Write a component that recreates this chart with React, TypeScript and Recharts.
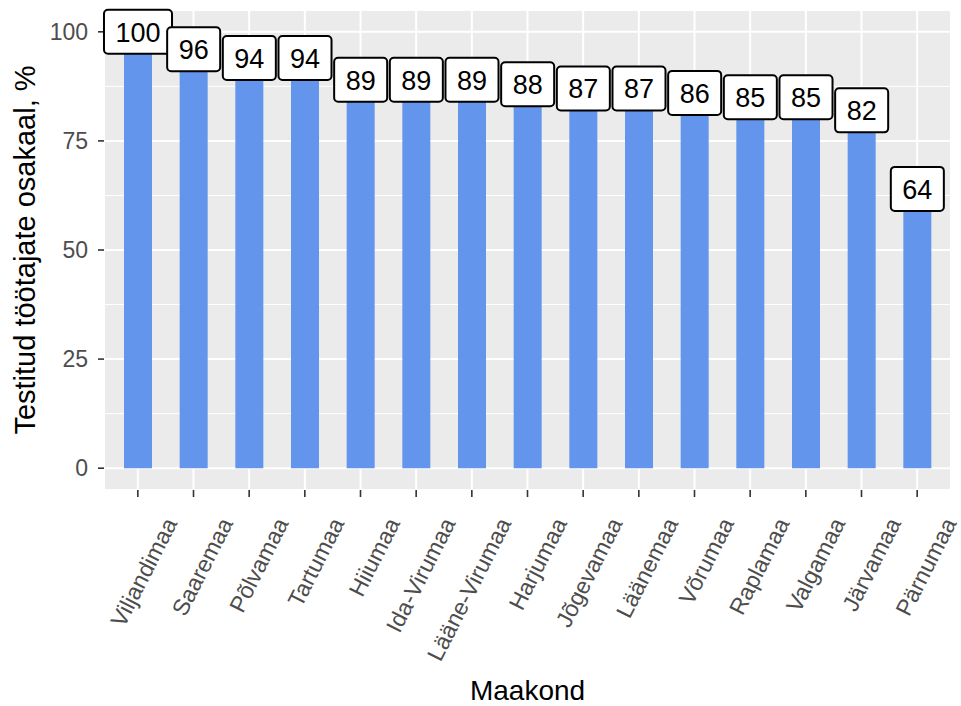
import React from 'react'
import { BarChart, Bar, XAxis, YAxis, CartesianGrid, LabelList, Label } from 'recharts'

const counties = [
  'Viljandimaa',
  'Saaremaa',
  'Põlvamaa',
  'Tartumaa',
  'Hiiumaa',
  'Ida-Virumaa',
  'Lääne-Virumaa',
  'Harjumaa',
  'Jõgevamaa',
  'Läänemaa',
  'Võrumaa',
  'Raplamaa',
  'Valgamaa',
  'Järvamaa',
  'Pärnumaa',
]
const shares = [100, 96, 94, 94, 89, 89, 89, 88, 87, 87, 86, 85, 85, 82, 64]
const yTicks = [0, 25, 50, 75, 100]
const yMinorTicks = [12.5, 37.5, 62.5, 87.5]

const data = counties.map((name, i) => ({ name, share: shares[i] }))

const FONT = '"Liberation Sans", Arial, sans-serif'

// rotated county names under the panel
const CountyTick = (props: any) => {
  const { x, y, payload } = props
  const ax = x + 40
  const ay = y + 24
  return (
    <text
      x={ax}
      y={ay}
      transform={`rotate(-63, ${ax}, ${ay})`}
      textAnchor="end"
      fontSize={23}
      fill="#4D4D4D"
      fontFamily={FONT}
    >
      {payload.value}
    </text>
  )
}

// ggplot-like geom_label box on top of each bar
const ValueLabel = (props: any) => {
  const { x, y, width, value } = props
  const text = String(value)
  const fs = 27
  const w = text.length * 0.556 * fs + 23
  const h = 44
  const cx = x + width / 2
  return (
    <g>
      <rect
        x={cx - w / 2}
        y={y - h / 2}
        width={w}
        height={h}
        rx={4}
        ry={4}
        fill="#ffffff"
        stroke="#000000"
        strokeWidth={2}
      />
      <text
        x={cx}
        y={y + fs * 0.36}
        textAnchor="middle"
        fontSize={fs}
        fill="#000000"
        fontFamily={FONT}
      >
        {text}
      </text>
    </g>
  )
}

export default function App() {
  return (
    <div
      style={{
        position: 'absolute',
        left: 0,
        top: 0,
        width: 961,
        height: 706,
        background: '#ffffff',
      }}
    >
      <BarChart
        width={961}
        height={706}
        data={data}
        margin={{ top: 10, right: 10, bottom: 0, left: 0 }}
      >
        {/* panel background + minor grid */}
        <CartesianGrid
          fill="#EBEBEB"
          stroke="#ffffff"
          strokeWidth={1}
          vertical={false}
          horizontalValues={yMinorTicks}
        />
        {/* major grid */}
        <CartesianGrid stroke="#ffffff" strokeWidth={2} />
        <XAxis
          dataKey="name"
          interval={0}
          height={216}
          padding={{ left: 6, right: 6 }}
          axisLine={false}
          tickSize={7}
          tickMargin={2}
          tickLine={{ stroke: '#333333', strokeWidth: 1.6 }}
          tick={<CountyTick />}
        >
          <Label
            content={(p: any) => {
              const vb = p.viewBox
              return (
                <text
                  x={vb.x + vb.width / 2}
                  y={vb.y + 210}
                  textAnchor="middle"
                  fontSize={28}
                  fill="#000000"
                  fontFamily={FONT}
                >
                  Maakond
                </text>
              )
            }}
          />
        </XAxis>
        <YAxis
          width={104}
          domain={[-5, 105]}
          ticks={yTicks}
          allowDataOverflow
          axisLine={false}
          tickSize={6}
          tickMargin={10}
          tickLine={{ stroke: '#333333', strokeWidth: 1.6 }}
          tick={{ fontSize: 23, fill: '#4D4D4D', fontFamily: FONT }}
        >
          <Label
            content={(p: any) => {
              const vb = p.viewBox
              const tx = 35
              const ty = vb.y + vb.height / 2
              return (
                <text
                  x={tx}
                  y={ty}
                  transform={`rotate(-90, ${tx}, ${ty})`}
                  textAnchor="middle"
                  fontSize={29}
                  fill="#000000"
                  fontFamily={FONT}
                >
                  Testitud töötajate osakaal, %
                </text>
              )
            }}
          />
        </YAxis>
        <Bar dataKey="share" fill="#6495ED" barSize={28} isAnimationActive={false}>
          <LabelList dataKey="share" content={<ValueLabel />} />
        </Bar>
      </BarChart>
    </div>
  )
}
